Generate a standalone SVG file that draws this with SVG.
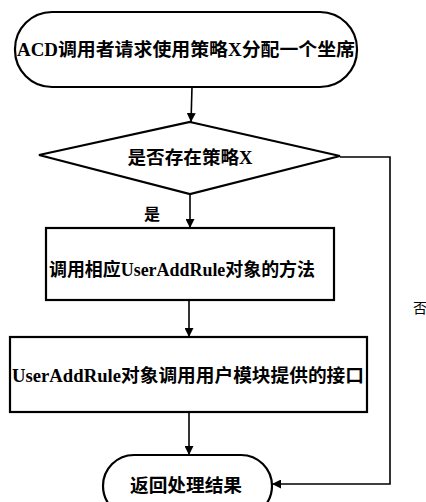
<svg xmlns="http://www.w3.org/2000/svg" width="426" height="502" viewBox="0 0 426 502">
<style>
.s{fill:none;stroke:#000;stroke-width:2.2}
.t{font-family:"Liberation Serif","Noto Sans CJK SC",serif;font-weight:bold;font-size:18px;fill:#000;text-anchor:middle;dominant-baseline:central}
.c{fill:none;stroke:#000;stroke-width:1.6}
</style>
<defs>
<marker id="ah" viewBox="0 0 10 10" refX="10" refY="5" markerWidth="9" markerHeight="9" markerUnits="userSpaceOnUse" orient="auto">
<path d="M0,0 L10,5 L0,10 z" fill="#000"/>
</marker>
</defs>
<rect width="426" height="502" fill="#fff"/>
<g id="start">
<rect class="s" x="15" y="12" width="342" height="75" rx="37" ry="37"/>
<text class="t" x="186" y="50" textLength="338" lengthAdjust="spacingAndGlyphs">ACD调用者请求使用策略X分配一个坐席</text>
</g>
<g id="decision">
<polygon class="s" points="190,122 340,156 190,194 39,155"/>
<text class="t" x="190" y="158" textLength="125" lengthAdjust="spacingAndGlyphs">是否存在策略X</text>
</g>
<g id="box1">
<rect class="s" x="46" y="228" width="288" height="72"/>
<text class="t" x="182" y="270" textLength="266" lengthAdjust="spacingAndGlyphs">调用相应UserAddRule对象的方法</text>
</g>
<g id="box2">
<rect class="s" x="10" y="337" width="357" height="75"/>
<text class="t" x="188" y="376" textLength="352" lengthAdjust="spacingAndGlyphs">UserAddRule对象调用用户模块提供的接口</text>
</g>
<g id="end">
<rect class="s" x="103" y="455" width="169" height="62" rx="31" ry="31"/>
<text class="t" x="186" y="486" textLength="112" lengthAdjust="spacingAndGlyphs">返回处理结果</text>
</g>
<g id="connectors">
<line class="c" x1="192" y1="87" x2="191" y2="122" marker-end="url(#ah)"/>
<line class="c" x1="190" y1="194" x2="190" y2="228" marker-end="url(#ah)"/>
<line class="c" x1="189" y1="300" x2="189" y2="337" marker-end="url(#ah)"/>
<line class="c" x1="189" y1="412" x2="189" y2="455" marker-end="url(#ah)"/>
<polyline class="c" points="340,157 390,157 390,484 272,484" marker-end="url(#ah)"/>
<text x="152" y="214" style="font-family:'Liberation Serif','Noto Sans CJK SC',serif;font-weight:bold;font-size:16px;text-anchor:middle;dominant-baseline:central">是</text>
<text x="420" y="308" style="font-family:'Liberation Serif','Noto Sans CJK SC',serif;font-size:14px;text-anchor:middle;dominant-baseline:central">否</text>
</g>
</svg>
